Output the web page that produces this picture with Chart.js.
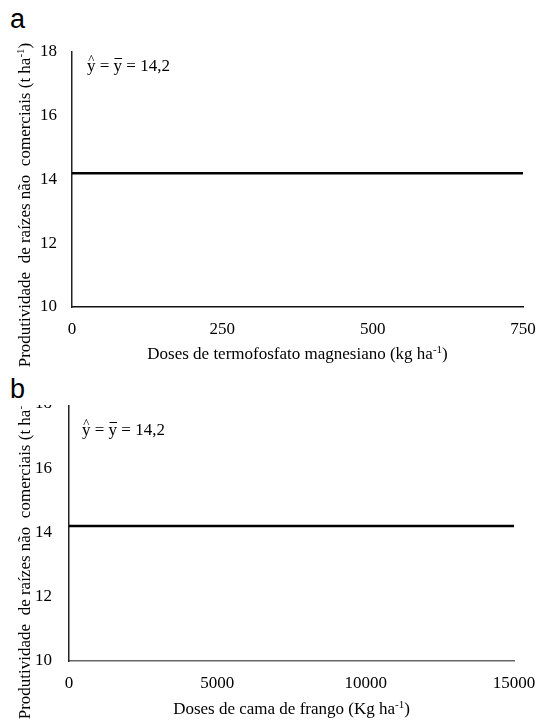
<!DOCTYPE html>
<html>
<head>
<meta charset="utf-8">
<script src="https://cdn.jsdelivr.net/npm/chart.js@4.4.1/dist/chart.umd.min.js"></script>
<style>
  body { margin: 0; background: #fff; width: 540px; height: 724px; position: relative; overflow: hidden; }
  .lbl { position: absolute; font-family: "Liberation Sans", Arial, sans-serif; font-size: 27px; color: #000; line-height: 1; }
  #wrapA { position: absolute; left: 0; top: 0; width: 540px; height: 378px; }
  #wrapB { position: absolute; left: 0; top: 405px; width: 540px; height: 319px; overflow: hidden; }
  #chartB { position: absolute; left: 0; top: -25px; }
</style>
</head>
<body>
<div class="lbl" style="left:10px; top:6px;">a</div>
<div class="lbl" style="left:10px; top:376px;">b</div>
<div id="wrapA"><canvas id="chartA" width="540" height="378"></canvas></div>
<div id="wrapB"><canvas id="chartB" width="540" height="344"></canvas></div>
<script>
// dados
const yTicks = [10, 12, 14, 16, 18];
const dosesTermo = [0, 750];
const prodTermo = [14.2, 14.2];
const xTicksTermo = [0, 250, 500, 750];
const dosesCama = [0, 15000];
const prodCama = [14.2, 14.2];
const xTicksCama = [0, 5000, 10000, 15000];

const equacao = ['y', ' = ', 'y', ' = 14,2'];
const yTitle = ['Produtividade  de raízes não  comerciais (t ha', '-1', ')'];
const xTitleTermo = ['Doses de termofosfato magnesiano (kg ha', '-1', ')'];
const xTitleCama = ['Doses de cama de frango (Kg ha', '-1', ')'];

const serif = '"Liberation Serif", "Times New Roman", serif';

// texto com expoente: [antes, expoente, depois]
function supWidth(ctx, parts, size) {
  ctx.font = size + 'px ' + serif;
  let w = ctx.measureText(parts[0]).width + ctx.measureText(parts[2]).width;
  ctx.font = Math.round(size * 0.62) + 'px ' + serif;
  return w + ctx.measureText(parts[1]).width;
}
function drawSup(ctx, parts, x, y, size) {
  ctx.textAlign = 'left';
  ctx.textBaseline = 'alphabetic';
  ctx.font = size + 'px ' + serif;
  ctx.fillText(parts[0], x, y);
  x += ctx.measureText(parts[0]).width;
  ctx.font = Math.round(size * 0.62) + 'px ' + serif;
  ctx.fillText(parts[1], x, y - size * 0.38);
  x += ctx.measureText(parts[1]).width;
  ctx.font = size + 'px ' + serif;
  ctx.fillText(parts[2], x, y);
}

const textPlugin = {
  id: 'textos',
  afterDraw(chart, args, opts) {
    const ctx = chart.ctx;
    const area = chart.chartArea;
    ctx.save();
    ctx.fillStyle = '#000';

    // equação
    ctx.font = '17px ' + serif;
    ctx.textAlign = 'left';
    ctx.textBaseline = 'alphabetic';
    let x = opts.eqX, y = opts.eqY;
    const wy = ctx.measureText('y').width;
    const x1 = x;
    ctx.fillText(equacao[0], x, y); x += wy;
    ctx.fillText(equacao[1], x, y); x += ctx.measureText(equacao[1]).width;
    const x2 = x;
    ctx.fillText(equacao[2], x, y); x += wy;
    ctx.fillText(equacao[3], x, y);
    ctx.font = '13px ' + serif;
    ctx.textAlign = 'center';
    ctx.fillText('^', x1 + wy / 2, y - 8);
    ctx.fillRect(x2 + 1, y - 13, wy - 1, 1);

    // título do eixo x
    const w = supWidth(ctx, opts.xTitle, 17);
    drawSup(ctx, opts.xTitle, (area.left + area.right) / 2 - w / 2, opts.xTitleY, 17);

    // título do eixo y
    const wv = supWidth(ctx, yTitle, 17);
    ctx.translate(opts.yTitleX, opts.yTitleC);
    ctx.rotate(-Math.PI / 2);
    drawSup(ctx, yTitle, -wv / 2, 0, 17);
    ctx.restore();
  }
};

function makeChart(id, xs, ys, xTicks, cfg) {
  return new Chart(document.getElementById(id), {
    type: 'line',
    data: {
      datasets: [{
        data: xs.map((v, i) => ({ x: v, y: ys[i] })),
        borderColor: '#000',
        borderWidth: 2.5,
        pointRadius: 0,
        fill: false,
        tension: 0
      }]
    },
    options: {
      responsive: false,
      animation: false,
      layout: { padding: { top: cfg.top, right: cfg.right, left: 0, bottom: 0 } },
      scales: {
        x: {
          type: 'linear',
          min: xTicks[0],
          max: xTicks[xTicks.length - 1],
          afterBuildTicks: s => { s.ticks = xTicks.map(v => ({ value: v })); },
          afterFit: s => { s.height = cfg.xHeight; s.paddingLeft = 0; s.paddingRight = 0; },
          grid: { display: false, drawTicks: false },
          border: { display: true, color: cfg.xColor, width: 1.5 },
          ticks: {
            color: '#000', padding: 12, maxRotation: 0,
            font: { family: serif, size: 17 },
            callback: v => String(v)
          }
        },
        y: {
          min: 10,
          max: 18,
          afterBuildTicks: s => { s.ticks = yTicks.map(v => ({ value: v })); },
          afterFit: s => { s.width = cfg.yWidth; s.paddingTop = 0; s.paddingBottom = 0; },
          grid: { display: false, drawTicks: false },
          border: { display: true, color: '#222', width: 1.5 },
          ticks: { color: '#000', padding: cfg.yPad, font: { family: serif, size: 17 } }
        }
      },
      plugins: {
        legend: { display: false },
        tooltip: { enabled: false },
        textos: cfg.text
      }
    },
    plugins: [textPlugin]
  });
}

makeChart('chartA', dosesTermo, prodTermo, xTicksTermo, {
  top: 52, right: 17, xHeight: 71, yWidth: 72, yPad: 15, xColor: '#111',
  text: { eqX: 87, eqY: 71, xTitle: xTitleTermo, xTitleY: 359, yTitleX: 30, yTitleC: 205 }
});

makeChart('chartB', dosesCama, prodCama, xTicksCama, {
  top: 24, right: 26, xHeight: 63, yWidth: 69, yPad: 17, xColor: '#666',
  text: { eqX: 82, eqY: 55, xTitle: xTitleCama, xTitleY: 334, yTitleX: 30, yTitleC: 177 }
});
</script>
</body>
</html>
